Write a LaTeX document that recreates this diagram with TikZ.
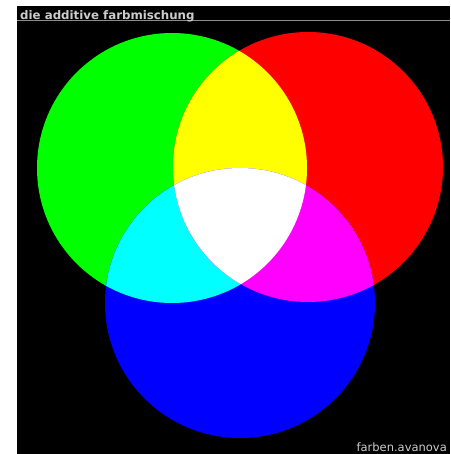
\documentclass[tikz,border=0pt]{standalone}
\usepackage{fontspec}
\setmainfont{DejaVu Sans}
\definecolor{mixG}{RGB}{0,255,0}
\definecolor{mixR}{RGB}{255,0,0}
\definecolor{mixB}{RGB}{0,0,255}
\definecolor{mixY}{RGB}{255,255,0}
\definecolor{mixC}{RGB}{0,255,255}
\definecolor{mixM}{RGB}{255,0,255}
\begin{document}
\begin{tikzpicture}[x=1pt,y=-1pt]
  \tikzset{label text/.style={inner sep=0pt,text=black!20}}
  \def\rad{135pt}
  % 背景
  \useasboundingbox (0,0) rectangle (450,454);
  \fill[white] (0,0) rectangle (450,454);
  \fill[black] (17,6) rectangle (450,454);
  \draw[black!45,line width=0.8pt] (17,20.5) -- (450,20.5);
  % 圆心
  \coordinate (G) at (172,168);
  \coordinate (R) at (308,167);
  \coordinate (B) at (240,303);
  % 三个圆
  \foreach \c/\col in {G/mixG,R/mixR,B/mixB}
    \fill[\col] (\c) circle (\rad);
  % 两两相交
  \begin{scope}
    \clip (G) circle (\rad);
    \fill[mixY] (R) circle (\rad);
    \fill[mixC] (B) circle (\rad);
  \end{scope}
  \begin{scope}
    \clip (R) circle (\rad);
    \fill[mixM] (B) circle (\rad);
  \end{scope}
  % 中间白色
  \begin{scope}
    \clip (G) circle (\rad);
    \clip (R) circle (\rad);
    \fill[white] (B) circle (\rad);
  \end{scope}
  % 文字
  \node[label text,anchor=base west,font=\bfseries\fontsize{11.8}{12}\selectfont]
    (title) at (20,19.5) {die additive farbmischung};
  \node[label text,anchor=base east,font=\fontsize{11.5}{12}\selectfont]
    (credit) at (447,451) {farben.avanova};
\end{tikzpicture}
\end{document}
